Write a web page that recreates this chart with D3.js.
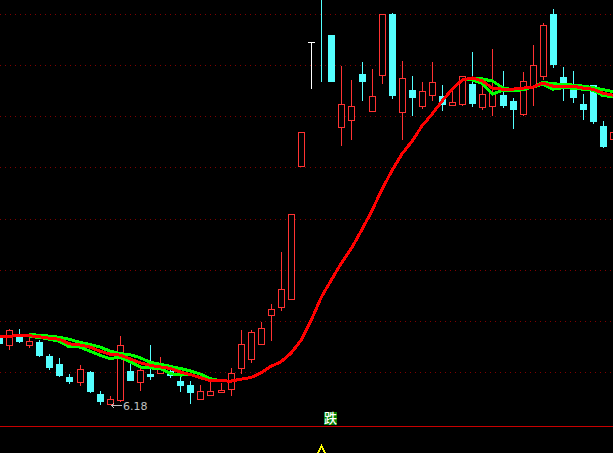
<!DOCTYPE html>
<html><head><meta charset="utf-8">
<style>html,body{margin:0;padding:0;background:#000;overflow:hidden}</style>
<script src="https://cdn.jsdelivr.net/npm/d3@7"></script></head>
<body><script>
const opens=[7.46,7.33,7.54,7.33,7.38,7.11,6.95,6.70,6.60,6.80,6.37,6.17,6.25,6.82,6.60,6.76,6.78,6.82,6.62,6.54,6.27,6.35,6.41,6.47,6.88,7.05,7.35,7.91,8.07,8.22,10.82,13.25,14.9,13.39,11.59,11.72,12.62,11.90,12.60,13.80,11.88,12.31,12.00,12.21,12.19,12.02,12.04,12.43,11.98,12.00,12.21,12.10,11.84,12.37,12.58,13.80,12.56,12.37,12.04,12.41,11.61,11.35];
const closes=[7.36,7.62,7.40,7.40,7.13,6.89,6.74,6.62,6.86,6.43,6.23,6.27,7.33,6.64,6.84,6.72,6.97,6.74,6.54,6.41,6.43,6.43,6.45,6.78,7.35,7.58,7.66,8.03,8.42,9.89,11.49,13.25,14.7,12.49,12.04,12.00,12.49,12.19,13.80,12.21,12.54,12.17,12.29,12.47,12.04,12.08,12.58,12.06,12.23,12.27,12.02,11.94,12.49,12.80,13.58,12.82,12.43,12.17,11.94,11.70,11.22,11.49];
const highs=[7.50,7.64,7.64,7.52,7.42,7.15,7.07,6.76,6.93,6.82,6.43,6.33,7.50,7.03,6.88,7.33,7.09,6.93,6.70,6.62,6.54,6.62,6.58,6.88,7.62,7.62,7.77,8.13,9.14,9.89,11.49,13.25,15.0,13.39,12.78,12.51,12.86,12.72,13.80,13.82,12.88,12.58,12.47,12.86,12.41,12.31,12.58,13.05,12.45,13.11,12.68,12.15,12.66,13.19,13.62,13.89,12.76,12.68,12.23,12.41,11.70,11.49];
const lows=[7.33,7.25,7.38,7.29,7.11,6.86,6.72,6.58,6.54,6.41,6.17,6.18,6.23,6.64,6.45,6.66,6.78,6.70,6.43,6.19,6.27,6.35,6.41,6.35,6.78,6.99,7.35,7.42,8.01,8.22,10.82,12.35,12.49,12.49,11.24,11.35,12.11,11.90,12.45,12.15,11.35,11.82,11.96,12.11,11.92,12.02,12.02,12.00,11.94,11.82,11.98,11.57,11.82,12.02,12.53,12.76,12.11,12.08,11.74,11.67,11.20,11.35];
const maRed=[7.49,7.50,7.51,7.51,7.49,7.46,7.44,7.35,7.33,7.29,7.21,7.15,7.13,7.06,6.98,6.93,6.90,6.87,6.80,6.75,6.69,6.63,6.63,6.62,6.66,6.69,6.78,6.91,7.00,7.17,7.42,7.81,8.26,8.60,8.93,9.22,9.57,9.94,10.36,10.73,11.06,11.31,11.61,11.84,12.10,12.33,12.51,12.55,12.49,12.35,12.33,12.33,12.35,12.37,12.45,12.39,12.39,12.39,12.35,12.33,12.25,12.21];
const maUpper=[null,null,null,7.53,7.52,7.50,7.48,7.44,7.38,7.34,7.29,7.21,7.16,7.14,7.08,6.99,6.95,6.91,6.87,6.82,6.76,6.67,6.63,6.62,null,null,null,null,null,null,null,null,null,null,null,null,null,null,null,null,null,null,null,null,null,null,12.51,12.55,12.53,12.49,12.36,12.32,12.33,12.37,12.46,12.44,12.42,12.41,12.39,12.36,12.32,12.28];
const maLower=[null,null,null,7.49,7.48,7.44,7.40,7.29,7.29,7.21,7.13,7.06,7.09,7.00,6.90,6.88,6.87,6.77,6.74,6.75,6.69,6.63,6.63,6.62,null,null,null,null,null,null,null,null,null,null,null,null,null,null,null,null,null,null,null,null,null,null,12.51,12.51,12.44,12.23,12.31,12.30,12.32,12.37,12.43,12.33,12.36,12.35,12.33,12.31,12.20,12.19];
const gridPrices=[6.8,7.8,8.8,9.8,10.8,11.8,12.8,13.8];
const lowLabel="6.18", signalLabel="跌";
const lowIndex=11, lowPrice=6.18;

const W=613,H=453;
const svg=d3.select("body").append("svg").attr("width",W).attr("height",H).style("display","block").style("background","#000");
const x=d3.scaleLinear().domain([0,61]).range([-1,613.3]);
const y=d3.scaleLinear().domain([6.8,13.8]).range([372,14]);
const px=v=>Math.round(x(v));
const py=v=>Math.round(y(v));
const UP="#ff3232",DOWN="#54ffff";

svg.append("g").selectAll("line").data(gridPrices).join("line")
 .attr("x1",0).attr("x2",W).attr("y1",d=>py(d)+.5).attr("y2",d=>py(d)+.5)
 .attr("stroke","#800000").attr("stroke-width",1).attr("stroke-dasharray","1 4").attr("shape-rendering","crispEdges");

const cs=d3.range(opens.length).map(i=>({i,o:opens[i],c:closes[i],h:highs[i],l:lows[i]}));
const col=d=>d.o===d.c?"#fff":(d.c>d.o?UP:DOWN);
const g=svg.append("g").attr("shape-rendering","crispEdges");
g.selectAll("rect.w").data(cs).join("rect").attr("class","w")
 .attr("x",d=>px(d.i)).attr("width",1).attr("y",d=>py(d.h)).attr("height",d=>py(d.l)-py(d.h)+1)
 .attr("fill",col);
g.selectAll("rect.b").data(cs.filter(d=>d.o!==d.c)).join("rect").attr("class","b")
 .attr("x",d=>px(d.i)-3+.5).attr("width",6)
 .attr("y",d=>py(Math.max(d.o,d.c))+.5).attr("height",d=>Math.max(1,py(Math.min(d.o,d.c))-py(Math.max(d.o,d.c))))
 .attr("fill",d=>d.c>d.o?"#000":DOWN).attr("stroke",col);
g.selectAll("rect.t").data(cs.filter(d=>d.o===d.c)).join("rect").attr("class","t")
 .attr("x",d=>px(d.i)-3).attr("width",7).attr("y",d=>py(d.o)).attr("height",1)
 .attr("fill",col);

const line=d3.line().defined(d=>d!=null).x((d,i)=>x(i)).y(d=>y(d));
const ma=svg.append("g").attr("fill","none").attr("shape-rendering","crispEdges").attr("stroke-linejoin","round");
[[maUpper,"#00ff00",3],[maLower,"#00ff00",3],[maRed,"#ff0000",3]].forEach(([s,c,w])=>{
  ma.append("path").attr("d",line(s)).attr("stroke",c).attr("stroke-width",w);
});

svg.append("rect").attr("x",0).attr("y",426).attr("width",W).attr("height",1).attr("fill","#c80000");

// low label
const lx=px(lowIndex), ly=py(lowPrice)+1;
svg.append("path").attr("d",`M${lx+1},${ly+.5}H${lx+12}M${lx+1},${ly+.5}l3,-2M${lx+1},${ly+.5}l3,2`).attr("stroke","#c0c0c0").attr("fill","none").attr("shape-rendering","crispEdges");
svg.append("text").attr("x",lx+13).attr("y",ly+5).attr("fill","#c0c0c0").attr("font-family","DejaVu Sans").attr("font-size",11).text(lowLabel);

// signal
const sx=324;
svg.append("rect").attr("x",sx).attr("y",412).attr("width",13).attr("height",13).attr("fill","#008000");
svg.append("text").attr("x",sx+6.5).attr("y",423).attr("text-anchor","middle").attr("fill","#fff").attr("font-family","Noto Sans CJK SC").attr("font-size",13).attr("font-weight",500).text(signalLabel);
svg.append("path").attr("d","M318,453L321.5,446L325,453").attr("stroke","#ffff00").attr("stroke-width",1.4).attr("fill","none").attr("shape-rendering","crispEdges");
</script></body></html>
